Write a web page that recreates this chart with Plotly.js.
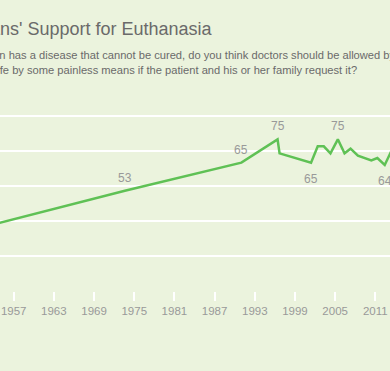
<!DOCTYPE html>
<html>
<head>
<meta charset="utf-8">
<script src="https://cdn.plot.ly/plotly-3.0.1.min.js"></script>
<style>html,body{margin:0;padding:0;background:#ebf3dd;}#chart{width:390px;height:371px;}</style>
</head>
<body>
<div id="chart"></div>
<script>
// Survey dates (decimal years) and % saying doctors should be allowed
var years  = [1947.5, 1950.5, 1973.6, 1991.0, 1996.4, 1996.7, 2001.4, 2002.4, 2003.3, 2004.3, 2005.4, 2006.4, 2007.3, 2008.4, 2010.4, 2011.3, 2012.4, 2013.4, 2014.4];
var values = [37, 36, 53, 65, 75, 69, 65, 72, 72, 69, 75, 69, 71, 68, 66, 67, 64, 70, 69];

// Labelled points
var labelYears  = [1973.6, 1991.0, 1996.4, 2001.4, 2005.4, 2012.4];
var labelValues = [53, 65, 75, 65, 75, 64];
var labelSide   = ["above", "above", "above", "below", "above", "below"];

var tickYears  = [1957, 1963, 1969, 1975, 1981, 1987, 1993, 1999, 2005, 2011];
var tickLabels = ["1957", "1963", "1969", "1975", "1981", "1987", "1993", "1999", "2005", "2011"];

var titleText = "Americans' Support for Euthanasia";
var subtitleLines = [
  "When a person has a disease that cannot be cured, do you think doctors should be allowed by law to end",
  "the patient's life by some painless means if the patient and his or her family request it?"
];

var FONT = "'Liberation Sans', Arial, sans-serif";
var W = 390, plotTop = 92, plotH = 199;
function pxToPaperX(px) { return px / W; }
function pyToPaper(py) { return (plotTop + plotH - py) / plotH; }

var annotations = labelYears.map(function (yr, i) {
  return {
    x: yr, y: labelValues[i], xref: "x", yref: "y",
    text: String(labelValues[i]), showarrow: false,
    yshift: labelSide[i] === "above" ? 13 : -16,
    font: {family: FONT, size: 12, color: "#999999"}
  };
});
annotations.push({
  xref: "paper", yref: "paper", x: pxToPaperX(-66.5), y: pyToPaper(28.8),
  xanchor: "left", yanchor: "middle", borderpad: 0, borderwidth: 0,
  text: titleText, showarrow: false, align: "left",
  font: {family: FONT, size: 18, color: "#6a6a6a"}
});
var subX = [-69.6, -68.0], subY = [55.1, 70.4];
subtitleLines.forEach(function (line, i) {
  annotations.push({
    xref: "paper", yref: "paper", x: pxToPaperX(subX[i]), y: pyToPaper(subY[i]),
    xanchor: "left", yanchor: "middle", borderpad: 0, borderwidth: 0,
    text: line, showarrow: false, align: "left",
    font: {family: FONT, size: 11.15, color: "#6a6a6a"}
  });
});

var trace = {
  x: years, y: values, type: "scatter", mode: "lines",
  line: {color: "#5fc155", width: 2.5},
  hoverinfo: "skip"
};

var layout = {
  width: 390, height: 371,
  margin: {l: 0, r: 0, t: plotTop, b: 371 - plotTop - plotH, pad: 0},
  paper_bgcolor: "#ebf3dd", plot_bgcolor: "#ebf3dd",
  showlegend: false,
  xaxis: {
    range: [1954.955, 2013.19], tickvals: tickYears, ticktext: tickLabels,
    showgrid: false, zeroline: false, showline: false,
    ticks: "outside", ticklen: 9, tickwidth: 2, tickcolor: "#ffffff",
    tickfont: {family: FONT, size: 11.5, color: "#999999"}
  },
  yaxis: {
    range: [10, 10 + 199 / (35 / 15)], tick0: 10, dtick: 15,
    showticklabels: false, showgrid: true, gridcolor: "#ffffff", gridwidth: 2,
    zeroline: false, showline: false, ticks: ""
  },
  annotations: annotations
};

Plotly.newPlot("chart", [trace], layout, {displayModeBar: false, staticPlot: true});
</script>
</body>
</html>
